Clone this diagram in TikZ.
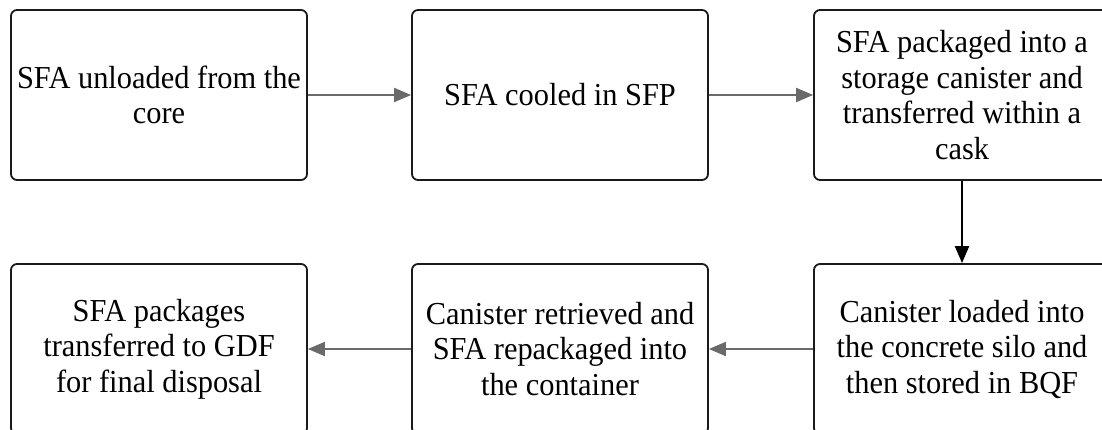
\documentclass[tikz,border=0pt]{standalone}
\usepackage{fontspec}
\setmainfont[FakeStretch=0.95]{Liberation Serif}
\usetikzlibrary{arrows.meta}
\definecolor{flowgray}{HTML}{6A6A6A}
\definecolor{boxline}{HTML}{1A1A1A}
\begin{document}
\begin{tikzpicture}[x=1pt,y=-1pt,
  stepbox/.style={draw=boxline, line width=1.8pt, rounded corners=6pt,
    minimum width=296pt, minimum height=170pt, inner sep=0pt,
    align=center, font=\fontsize{32}{35.5}\selectfont},
  grayflow/.style={draw=flowgray, line width=2pt,
    -{Triangle[length=17pt,width=14pt]}, flowgray},
  blackflow/.style={draw=black, line width=2pt,
    -{Triangle[length=17pt,width=14pt]}}]
  \useasboundingbox (0,0) rectangle (1102,430);
  \clip (0,0) rectangle (1102,430);

  % upper row, left to right
  \node[stepbox] (unload) at (159,95) {SFA unloaded from the\\core};
  \node[stepbox] (cool) at (560,95) {SFA cooled in SFP};
  \node[stepbox] (pack) at (962,95) {SFA packaged into a\\storage canister and\\transferred within a\\cask};

  % lower row, right to left
  \node[stepbox] (silo) at (962,349) {Canister loaded into\\the concrete silo and\\then stored in BQF};
  \node[stepbox] (retrieve) at (560,349) {Canister retrieved and\\SFA repackaged into\\the container};
  \node[stepbox] (gdf) at (159,349) {SFA packages\\transferred to GDF\\for final disposal};

  % connectors
  \draw[grayflow] (unload.east) -- (cool.west);
  \draw[grayflow] (cool.east) -- (pack.west);
  \draw[blackflow] (pack.south) -- (silo.north);
  \draw[grayflow] (silo.west) -- (retrieve.east);
  \draw[grayflow] (retrieve.west) -- (gdf.east);
\end{tikzpicture}
\end{document}
